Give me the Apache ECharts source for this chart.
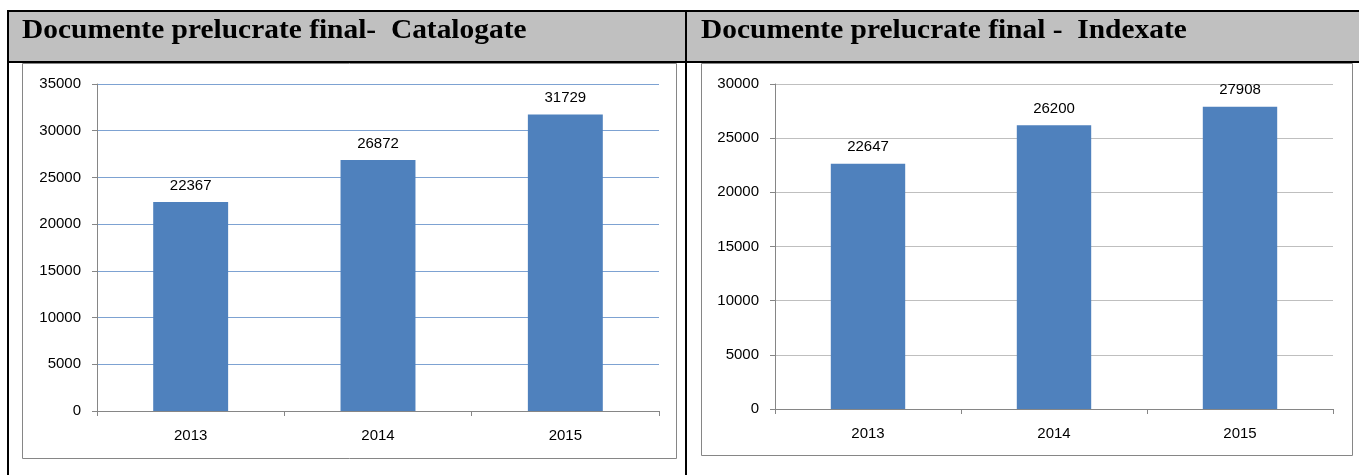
<!DOCTYPE html>
<html>
<head>
<meta charset="utf-8">
<script src="https://cdn.jsdelivr.net/npm/echarts@6/dist/echarts.min.js"></script>
<style>
  html, body { margin: 0; padding: 0; background: #fff; }
  #main { width: 1359px; height: 475px; }
</style>
</head>
<body>
<div id="main"></div>
<script>
// date
var years = ['2013', '2014', '2015'];
var catalogate = [22367, 26872, 31729];
var indexate = [22647, 26200, 27908];
var titluStanga = 'Documente prelucrate final-  Catalogate';
var titluDreapta = 'Documente prelucrate final -  Indexate';

var chart = echarts.init(document.getElementById('main'));

var barColor = '#4f81bd';
var axisGray = '#868686';
var lblFont = { fontFamily: 'Liberation Sans', fontSize: 15, color: '#000' };
var titleFont = { fontFamily: 'Liberation Serif', fontWeight: 'bold', fontSize: 27, fill: '#000' };

function yAxisCfg(idx, max, gridColor) {
    return {
        gridIndex: idx,
        type: 'value',
        min: 0,
        max: max,
        interval: 5000,
        axisLine: { show: true, lineStyle: { color: axisGray } },
        axisTick: { show: true, length: 5, lineStyle: { color: axisGray } },
        axisLabel: Object.assign({ margin: 16, formatter: function (v) { return String(v); } }, lblFont),
        splitLine: { lineStyle: { color: gridColor, width: 1 } }
    };
}
function xAxisCfg(idx) {
    return {
        gridIndex: idx,
        type: 'category',
        data: years,
        axisLine: { lineStyle: { color: axisGray } },
        axisTick: { show: true, length: 5, lineStyle: { color: axisGray } },
        axisLabel: Object.assign({ margin: 17 }, lblFont)
    };
}

option = {
    animation: false,
    graphic: [
        // header gri
        { type: 'rect', z: -10, shape: { x: 8, y: 11, width: 1351, height: 51 }, style: { fill: '#c0c0c0' } },
        // linii tabel
        { type: 'rect', z: -5, shape: { x: 7, y: 10, width: 1352, height: 2 }, style: { fill: '#000' } },
        { type: 'rect', z: -5, shape: { x: 7, y: 61, width: 1352, height: 2 }, style: { fill: '#000' } },
        { type: 'rect', z: -5, shape: { x: 7, y: 10, width: 2, height: 465 }, style: { fill: '#000' } },
        { type: 'rect', z: -5, shape: { x: 685, y: 10, width: 2, height: 465 }, style: { fill: '#000' } },
        // chenare grafice
        { type: 'rect', z: -4, shape: { x: 22.5, y: 63.5, width: 654, height: 395 }, style: { fill: '#fff', stroke: axisGray, lineWidth: 1 } },
        { type: 'rect', z: -4, shape: { x: 701.5, y: 63.5, width: 651, height: 392 }, style: { fill: '#fff', stroke: axisGray, lineWidth: 1 } },
        // titluri
        {
            type: 'text', z: 10, x: 22, y: 31, scaleX: 1.09,
            style: Object.assign({ text: titluStanga, verticalAlign: 'middle' }, titleFont)
        },
        {
            type: 'text', z: 10, x: 701, y: 31, scaleX: 1.09,
            style: Object.assign({ text: titluDreapta, verticalAlign: 'middle' }, titleFont)
        }
    ],
    grid: [
        { left: 97, top: 84, width: 562, height: 327 },
        { left: 775, top: 84, width: 558, height: 325 }
    ],
    xAxis: [xAxisCfg(0), xAxisCfg(1)],
    yAxis: [yAxisCfg(0, 35000, '#7da2d2'), yAxisCfg(1, 30000, '#bfbfbf')],
    series: [
        {
            type: 'bar',
            xAxisIndex: 0,
            yAxisIndex: 0,
            data: catalogate,
            barWidth: '40%',
            itemStyle: { color: barColor },
            label: Object.assign({ show: true, position: 'top', distance: 9 }, lblFont)
        },
        {
            type: 'bar',
            xAxisIndex: 1,
            yAxisIndex: 1,
            data: indexate,
            barWidth: '40%',
            itemStyle: { color: barColor },
            label: Object.assign({ show: true, position: 'top', distance: 9 }, lblFont)
        }
    ]
};
chart.setOption(option);
</script>
</body>
</html>
